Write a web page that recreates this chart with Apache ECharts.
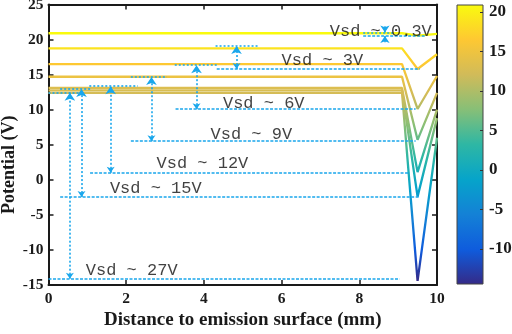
<!DOCTYPE html>
<html>
<head>
<meta charset="utf-8">
<script src="https://cdn.jsdelivr.net/npm/echarts@6/dist/echarts.min.js"></script>
<style>
  html, body { margin: 0; padding: 0; background: #fff; }
  #main { width: 512px; height: 334px; }
</style>
</head>
<body>
<div id="main"></div>
<script>
// potential profiles, one per Vsd
var vsdNames = ['Vsd ~ 0.3V', 'Vsd ~ 3V', 'Vsd ~ 6V', 'Vsd ~ 9V', 'Vsd ~ 12V', 'Vsd ~ 15V', 'Vsd ~ 27V'];
var profileX = [0, 9.1, 9.5, 10];
var flatLevel = [20.9, 18.75, 16.5, 14.7, 13.1, 12.75, 12.4];
var dipMin = [20.55, 15.8, 10.1, 5.7, 1.1, -2.4, -14.4];
var endLevel = [20.8, 17.9, 14.8, 12.4, 10.0, 8.8, 6.0];

// guide lines (blue dotted)
var upperFrom = [8.1, 4.3, 3.25, 2.12, 1.05, 0.3, 0.0];
var upperTo = [8.9, 5.4, 4.33, 3.05, 2.3, 1.1, 0.8];
var upperLevel = [21.0, 19.07, 16.35, 14.65, 13.35, 12.95, 12.4];
var lowerFrom = [8.1, 4.33, 3.27, 2.12, 1.07, 0.3, 0.0];
var lowerTo = [9.7, 9.56, 9.45, 9.45, 9.3, 9.56, 9.04];
var lowerLevel = [20.5, 15.8, 10.07, 5.5, 1.0, -2.46, -14.1];
var arrowX = [8.66, 4.84, 3.81, 2.65, 1.6, 0.85, 0.55];

// colour bar range and ticks
var cbMin = -14.45, cbMax = 20.9;
var cbTicks = [-10, -5, 0, 5, 10, 15, 20];
var parula = ['#352a87', '#0f5cdd', '#1481d6', '#06a4ca', '#2eb7a4', '#87bf77', '#d1bb59', '#fec832', '#f9fb0e'];

// where the "Vsd ~" labels sit (left edge, middle)
var labelAt = [[7.24, 21.1], [6.0, 17.07], [4.49, 10.89], [4.17, 6.46], [2.78, 2.29], [1.58, -1.26], [0.96, -12.93]];

var blue = '#1aa7ec';
var axisColor = '#1a1a1a';
var serif = 'Liberation Serif';

var myChart = echarts.init(document.getElementById('main'));

var series = [];
for (var i = 0; i < vsdNames.length; i++) {
    var ys = [flatLevel[i], flatLevel[i], dipMin[i], endLevel[i]];
    series.push({
        name: vsdNames[i],
        type: 'line',
        xAxisIndex: 0,
        yAxisIndex: 0,
        showSymbol: false,
        lineStyle: { width: 2.3 },
        data: profileX.map(function (x, j) { return [x, ys[j]]; }),
        z: 3
    });
}
var nLines = series.length;

var upperData = [], lowerData = [], arrowData = [];
for (var k = 0; k < vsdNames.length; k++) {
    upperData.push({ coords: [[upperFrom[k], upperLevel[k]], [upperTo[k], upperLevel[k]]] });
    lowerData.push({ coords: [[lowerFrom[k], lowerLevel[k]], [lowerTo[k], lowerLevel[k]]] });
    if (k > 0) {
        arrowData.push({ coords: [[arrowX[k], lowerLevel[k]], [arrowX[k], upperLevel[k]]] });
    }
}

series.push({
    type: 'lines', coordinateSystem: 'cartesian2d', xAxisIndex: 0, yAxisIndex: 0,
    symbol: 'none', silent: true, z: 4,
    lineStyle: { color: blue, width: 1.6, type: [2, 2], opacity: 1 },
    data: upperData
});
series.push({
    type: 'lines', coordinateSystem: 'cartesian2d', xAxisIndex: 0, yAxisIndex: 0,
    symbol: 'none', silent: true, z: 4,
    lineStyle: { color: blue, width: 1.6, type: [3, 1.5], opacity: 1 },
    data: lowerData
});
series.push({
    type: 'lines', coordinateSystem: 'cartesian2d', xAxisIndex: 0, yAxisIndex: 0,
    symbol: ['arrow', 'arrow'], symbolSize: [6, 8], silent: true, z: 4,
    lineStyle: { color: blue, width: 1.6, type: [2, 2], opacity: 1 },
    data: arrowData
});
// tiny gap for 0.3V: arrows pointing inward
series.push({
    type: 'lines', coordinateSystem: 'cartesian2d', xAxisIndex: 0, yAxisIndex: 0,
    symbol: ['none', 'arrow'], symbolSize: [6, 7], silent: true, z: 4,
    lineStyle: { color: blue, width: 1.6, opacity: 1 },
    data: [
        { coords: [[arrowX[0], upperLevel[0] + 0.9], [arrowX[0], upperLevel[0]]] },
        { coords: [[arrowX[0], lowerLevel[0] - 0.9], [arrowX[0], lowerLevel[0]]] }
    ]
});
series.push({
    type: 'scatter', xAxisIndex: 0, yAxisIndex: 0, symbolSize: 0, silent: true, z: 6,
    data: labelAt.map(function (p, i) { return { value: p, name: vsdNames[i] }; }),
    label: {
        show: true, position: 'right', distance: 0,
        formatter: function (p) { return p.name; },
        fontFamily: 'Liberation Mono', fontSize: 17, color: '#111'
    }
});

var tickLabel = { color: axisColor, fontFamily: serif, fontWeight: 'bold', fontSize: 15.5 };
var boxLine = { onZero: false, lineStyle: { color: axisColor, width: 2 } };
var boxTick = { inside: true, length: 5, lineStyle: { color: axisColor, width: 1.5 } };

option = {
    animation: false,
    backgroundColor: '#fff',
    grid: [
        { left: 48.5, right: 75, top: 4.5, bottom: 49, outerBoundsMode: 'none', containLabel: false },
        {
            left: 457, right: 29, top: 5, bottom: 50, show: true,
            outerBoundsMode: 'none', containLabel: false,
            borderColor: '#444', borderWidth: 1,
            backgroundColor: new echarts.graphic.LinearGradient(0, 0, 0, 1,
                parula.slice().reverse().map(function (c, i, a) { return { offset: i / (a.length - 1), color: c }; }))
        }
    ],
    visualMap: {
        type: 'continuous', show: false, dimension: 1,
        min: cbMin, max: cbMax,
        seriesIndex: series.slice(0, nLines).map(function (s, i) { return i; }),
        inRange: { color: parula }
    },
    xAxis: [{
        type: 'value', gridIndex: 0, min: 0, max: 10, interval: 2,
        name: 'Distance to emission surface (mm)', nameLocation: 'middle', nameGap: 26,
        nameMoveOverlap: false,
        nameTextStyle: { color: axisColor, fontFamily: serif, fontWeight: 'bold', fontSize: 19 },
        axisLine: boxLine,
        axisTick: boxTick,
        axisLabel: Object.assign({ margin: 6 }, tickLabel),
        splitLine: { show: false }
    }, {
        type: 'value', gridIndex: 0, position: 'top', min: 0, max: 10, interval: 2,
        axisLine: boxLine,
        axisTick: boxTick,
        axisLabel: { show: false },
        splitLine: { show: false }
    }, {
        type: 'category', gridIndex: 1, data: [''], show: false
    }],
    yAxis: [{
        type: 'value', gridIndex: 0, min: -15, max: 25, interval: 5,
        name: 'Potential (V)', nameLocation: 'middle', nameGap: 30,
        nameMoveOverlap: false,
        nameTextStyle: { color: axisColor, fontFamily: serif, fontWeight: 'bold', fontSize: 18, padding: [0, 40, 0, 0] },
        axisLine: boxLine,
        axisTick: boxTick,
        axisLabel: Object.assign({ margin: 5 }, tickLabel),
        splitLine: { show: false }
    }, {
        type: 'value', gridIndex: 0, position: 'right', min: -15, max: 25, interval: 5,
        axisLine: boxLine,
        axisTick: boxTick,
        axisLabel: { show: false },
        splitLine: { show: false }
    }, {
        type: 'value', gridIndex: 1, position: 'right', min: cbMin, max: cbMax,
        axisLine: { show: false },
        axisTick: { show: true, inside: true, length: 3, customValues: cbTicks, lineStyle: { color: '#333' } },
        axisLabel: {
            color: axisColor, fontFamily: serif, fontWeight: 'bold', fontSize: 17, margin: 6,
            customValues: cbTicks
        },
        splitLine: { show: false }
    }],
    series: series
};

myChart.setOption(option);
</script>
</body>
</html>
